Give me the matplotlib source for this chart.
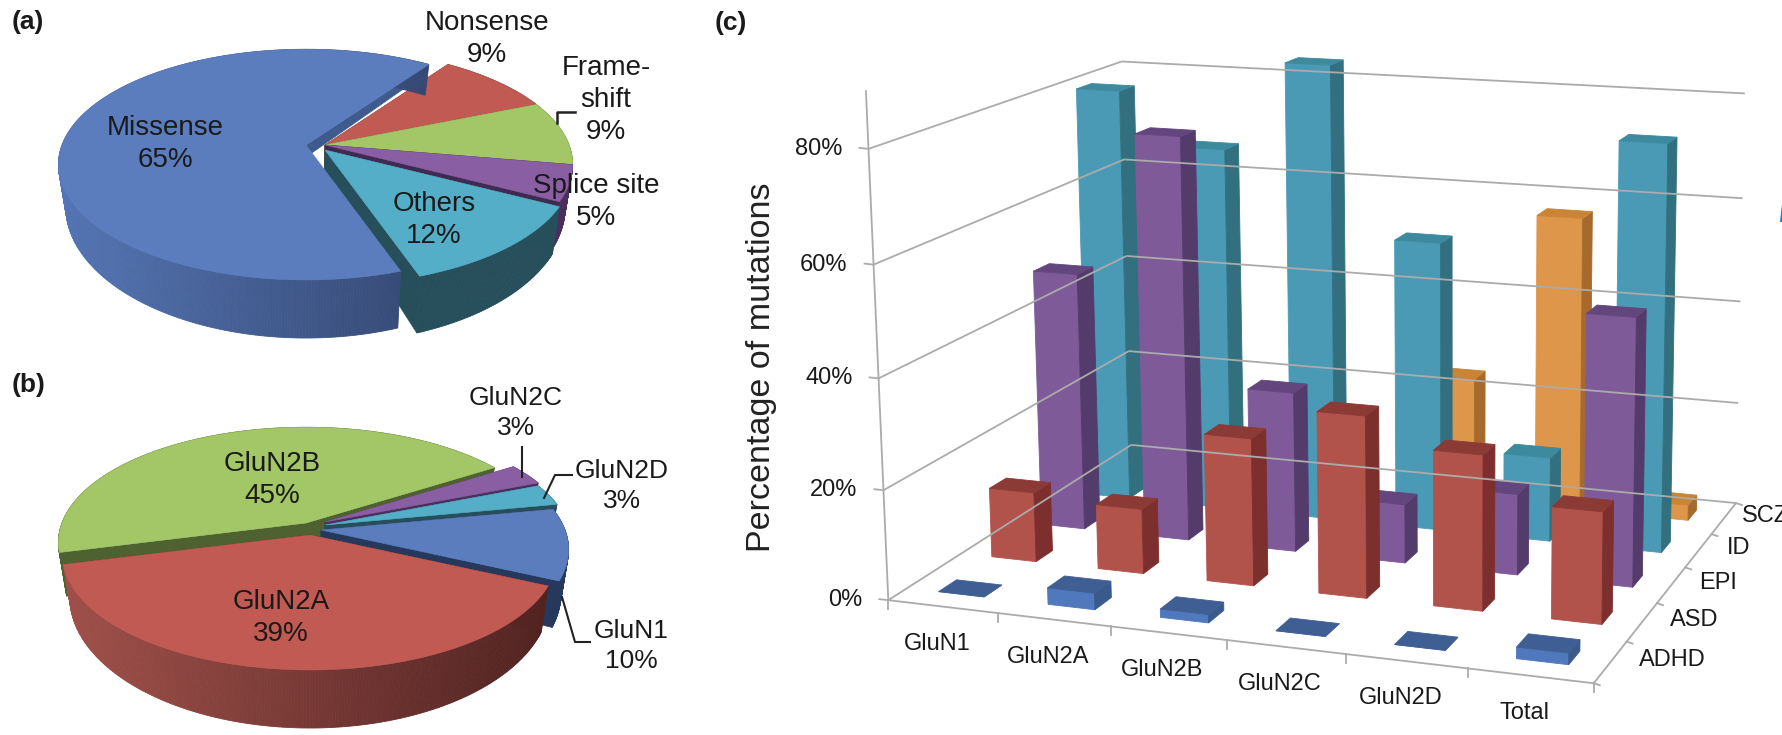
import matplotlib
matplotlib.use('Agg')
import matplotlib.pyplot as plt
import numpy as np

plt.rcParams['font.family'] = ['Liberation Sans', 'DejaVu Sans']

# panel a
mut_labels = ['Missense', 'Nonsense', 'Frame-\nshift', 'Splice site', 'Others']
mut_values = [65, 9, 9, 5, 12]
# panel b
sub_labels = ['GluN1', 'GluN2A', 'GluN2B', 'GluN2C', 'GluN2D']
sub_values = [10, 39, 45, 3, 3]
# panel c
categories = ['GluN1', 'GluN2A', 'GluN2B', 'GluN2C', 'GluN2D', 'Total']
series = ['ADHD', 'ASD', 'EPI', 'ID', 'SCZ']
adhd = [0, 3, 1.5, 0, 0, 2]
asd = [13, 12, 27, 33, 28, 20]
epi = [49, 76, 30, 11, 15, 49]
id_ = [80, 70, 87, 55, 16, 76]
scz = [0, 0, 0, 24, 57, 3]
yticks = [0, 20, 40, 60, 80]

BLUE = '#5b7dbe'
RED = '#c15a52'
GREEN = '#a3c766'
PURPLE = '#8a5ea2'
TEAL = '#55aec8'

fig = plt.figure(figsize=(17.83, 7.35), dpi=100)
ax = fig.add_axes([0, 0, 1, 1])
ax.set_xlim(0, 1783)
ax.set_ylim(735, 0)
ax.axis('off')


def disc(theta, c, rx=244, ry=112, k=0.17, depth=0):
    # theta in degrees clockwise from north, perspective squeezes the far side
    t = np.radians(theta)
    u, v = np.sin(t), -np.cos(t)
    s = 1 / (1 - k * v)
    shrink = 0.97 if depth else 1.0
    return c[0] + rx * u * s * shrink, c[1] + ry * v * s + depth * s ** 2


def mix(a, b, f):
    a = np.array(matplotlib.colors.to_rgb(a))
    b = np.array(matplotlib.colors.to_rgb(b))
    return tuple(a + (b - a) * f)


def cut_wall(angle, c, wall, depth=40):
    x0, y0 = disc(angle, c)
    x1, y1 = disc(angle, c, depth=depth)
    ax.fill([c[0], x0, x1, c[0]], [c[1], y0, y1, c[1] + depth], color=wall, lw=0.5)


def slice3d(start, value, c, top, rim_left, rim_right, wall, depth=40, walls=(True, True)):
    end = start + value * 3.6
    th = np.linspace(start, end, int(value * 6) + 4)
    if walls[0]:
        cut_wall(start, c, wall, depth)
    if walls[1]:
        cut_wall(end, c, wall, depth)
    # outer wall, shaded from left to right
    for a, b in zip(th[:-1], th[1:]):
        xa, ya = disc(a, c)
        xb, yb = disc(b, c)
        xc, yc = disc(b, c, depth=depth)
        xd, yd = disc(a, c, depth=depth)
        f = np.clip((xa - c[0] + 250) / 500, 0, 1)
        col = mix(rim_left, rim_right, f)
        ax.fill([xa, xb, xc, xd], [ya, yb, yc, yd], color=col, lw=0.6)
    x, y = disc(th, c)
    ax.fill(np.r_[c[0], x], np.r_[c[1], y], color=top, lw=0.4)


def txt(x, y, s, size=20, **kw):
    kw.setdefault('ha', 'center')
    kw.setdefault('va', 'center')
    kw.setdefault('color', '#1a1a1a')
    ax.text(x, y, s, fontsize=size, linespacing=1.3, **kw)


# panel a, starts at 161 deg
start_a = 161
edges_a = start_a + np.r_[0, np.cumsum(mut_values)] * 3.6
cut_wall(edges_a[1], (306, 145), '#3f5b8e', depth=12)
slice3d(edges_a[1], mut_values[1], (325, 145), RED, '#7a3531', '#7a3531', '#7a3531')
slice3d(edges_a[2], mut_values[2], (325, 145), GREEN, '#64803c', '#64803c', '#64803c')
slice3d(edges_a[3], mut_values[3], (325, 145), PURPLE, '#4a2f5e', '#4a2f5e', '#3f2a52')
slice3d(edges_a[4], mut_values[4], (325, 150), TEAL, '#274e5b', '#274e5b', '#274e5b')
slice3d(edges_a[0], mut_values[0], (306, 145), BLUE, '#5475b4', '#2b3a5e', '#3f5b8e',
        walls=(False, False))

txt(165, 144, 'Missense\n65%')
txt(487, 39, 'Nonsense\n9%')
txt(606, 100, 'Frame-\nshift\n9%')
txt(596, 202, 'Splice site\n5%')
txt(434, 220, 'Others\n12%')
ax.plot([557, 557, 575], [123, 112, 112], color='#222222', lw=1.8)

# panel b, starts at 79 deg
start_b = 79
edges_b = start_b + np.r_[0, np.cumsum(sub_values)] * 3.6
slice3d(edges_b[2], sub_values[2], (306, 523), GREEN, '#4d6230', '#4d6230', '#4d6230')
slice3d(edges_b[3], sub_values[3], (325, 522), PURPLE, '#4a2f5e', '#4a2f5e', '#4a2f5e')
slice3d(edges_b[4], sub_values[4], (325, 525), TEAL, '#274e5b', '#274e5b', '#274e5b')
slice3d(edges_b[0], sub_values[0], (321, 530), BLUE, '#26395c', '#26395c', '#26395c')
slice3d(edges_b[1], sub_values[1], (310, 535), RED, '#a0504a', '#4f2220', '#5a2825')

txt(272, 480, 'GluN2B\n45%')
txt(281, 618, 'GluN2A\n39%')
txt(516, 413, 'GluN2C\n3%', size=19)
txt(622, 486, 'GluN2D\n3%', size=19)
txt(631, 646, 'GluN1\n10%', size=19)
ax.plot([522, 522], [447, 477], color='#222222', lw=1.5)
ax.plot([544, 555, 572], [498, 475, 475], color='#222222', lw=1.5)
ax.plot([562, 575, 590], [597, 642, 642], color='#222222', lw=1.5)

txt(28, 22, '(a)', size=19, fontweight='bold')
txt(29, 385, '(b)', size=19, fontweight='bold')
txt(731, 23, '(c)', size=19, fontweight='bold')

# panel c, 3d bars through a fitted camera matrix
anchors = [((0, 0, 0), (888, 596)), ((6, 0, 0), (1594, 688)), ((6, 5, 0), (1736, 498)),
           ((0, 5, 0), (1132, 451)), ((0, 5, 80), (1121, 59)), ((6, 5, 80), (1746, 96)),
           ((0, 0, 80), (869, 151)), ((0, 0, 40), (878, 376)), ((6, 5, 40), (1739, 300))]
rows = []
for (X, Y, Z), (px, py) in anchors:
    rows.append([X, Y, Z, 1, 0, 0, 0, 0, -px * X, -px * Y, -px * Z, -px])
    rows.append([0, 0, 0, 0, X, Y, Z, 1, -py * X, -py * Y, -py * Z, -py])
cam = np.linalg.svd(np.array(rows, float))[2][-1].reshape(3, 4)


def proj(X, Y, Z):
    p = cam @ np.array([X, Y, Z, 1.0])
    return p[0] / p[2], p[1] / p[2]


def face(pts, col):
    xy = np.array([proj(*p) for p in pts])
    ax.fill(xy[:, 0], xy[:, 1], color=col, lw=0.6)


def line3(a, b, col='#ababab', lw=1.3):
    xa, ya = proj(*a)
    xb, yb = proj(*b)
    ax.plot([xa, xb], [ya, yb], color=col, lw=lw, solid_capstyle='butt')


# walls and floor frame
for t in yticks[1:]:
    line3((0, 0, t), (0, 5, t))
    line3((0, 5, t), (6, 5, t))
line3((0, 0, 0), (0, 0, 90))
line3((0, 0, 0), (0, 5, 0))
line3((0, 0, 0), (6, 0, 0))
line3((6, 0, 0), (6, 5, 0))
line3((0, 5, 0), (6, 5, 0))
for t in yticks:
    x, y = proj(0, 0, t)
    ax.plot([x - 9, x], [y - 1, y], color='#ababab', lw=1.3)
    txt(x - 26, y, '%d%%' % t, size=17, ha='right')
for i in range(7):
    x, y = proj(i, 0, 0)
    ax.plot([x, x], [y, y + 9], color='#ababab', lw=1.3)
    if i < 6:
        x, y = proj(i + 0.5, 0, 0)
        txt(x - 6, y + 37, categories[i], size=17)
for j in range(6):
    x, y = proj(6, j, 0)
    ax.plot([x, x + 6], [y, y + 2], color='#ababab', lw=1.3)
    if j < 5:
        x, y = proj(6, j + 0.5, 0)
        pad = 18 if j == 4 else 28
        txt(x + pad, y - 2, series[j], size=17, ha='left')
txt(762, 367, 'Percentage of mutations', size=24.5, rotation=90, color='#222222')

bar_colors = [('#4f78bd', '#3f5f94', '#3a5a8c'),
              ('#b2534b', '#8c3a36', '#7d2f2e'),
              ('#7f5a98', '#64467e', '#533b6b'),
              ('#4a9ab6', '#3d8a9e', '#33707f'),
              ('#de964a', '#c98435', '#a56a2c')]
bar_w = 0.42
bar_d = 0.33
all_vals = [adhd, asd, epi, id_, scz]
for j in reversed(range(5)):
    front, top, side = bar_colors[j]
    for i in range(6):
        v = all_vals[j][i]
        if v == 0 and j > 0:
            continue
        x0, x1 = i + 0.5 - bar_w / 2, i + 0.5 + bar_w / 2
        y0, y1 = j + 0.5 - bar_d / 2, j + 0.5 + bar_d / 2
        face([(x0, y0, 0), (x1, y0, 0), (x1, y0, v), (x0, y0, v)], front)
        face([(x1, y0, 0), (x1, y1, 0), (x1, y1, v), (x1, y0, v)], side)
        face([(x0, y0, v), (x1, y0, v), (x1, y1, v), (x0, y1, v)], top)

# sliver of the next figure at the right edge of the page
ax.fill([1783, 1780, 1783], [195, 222, 222], color='#1f77c0', lw=0)

fig.savefig('out.png', dpi=100)
